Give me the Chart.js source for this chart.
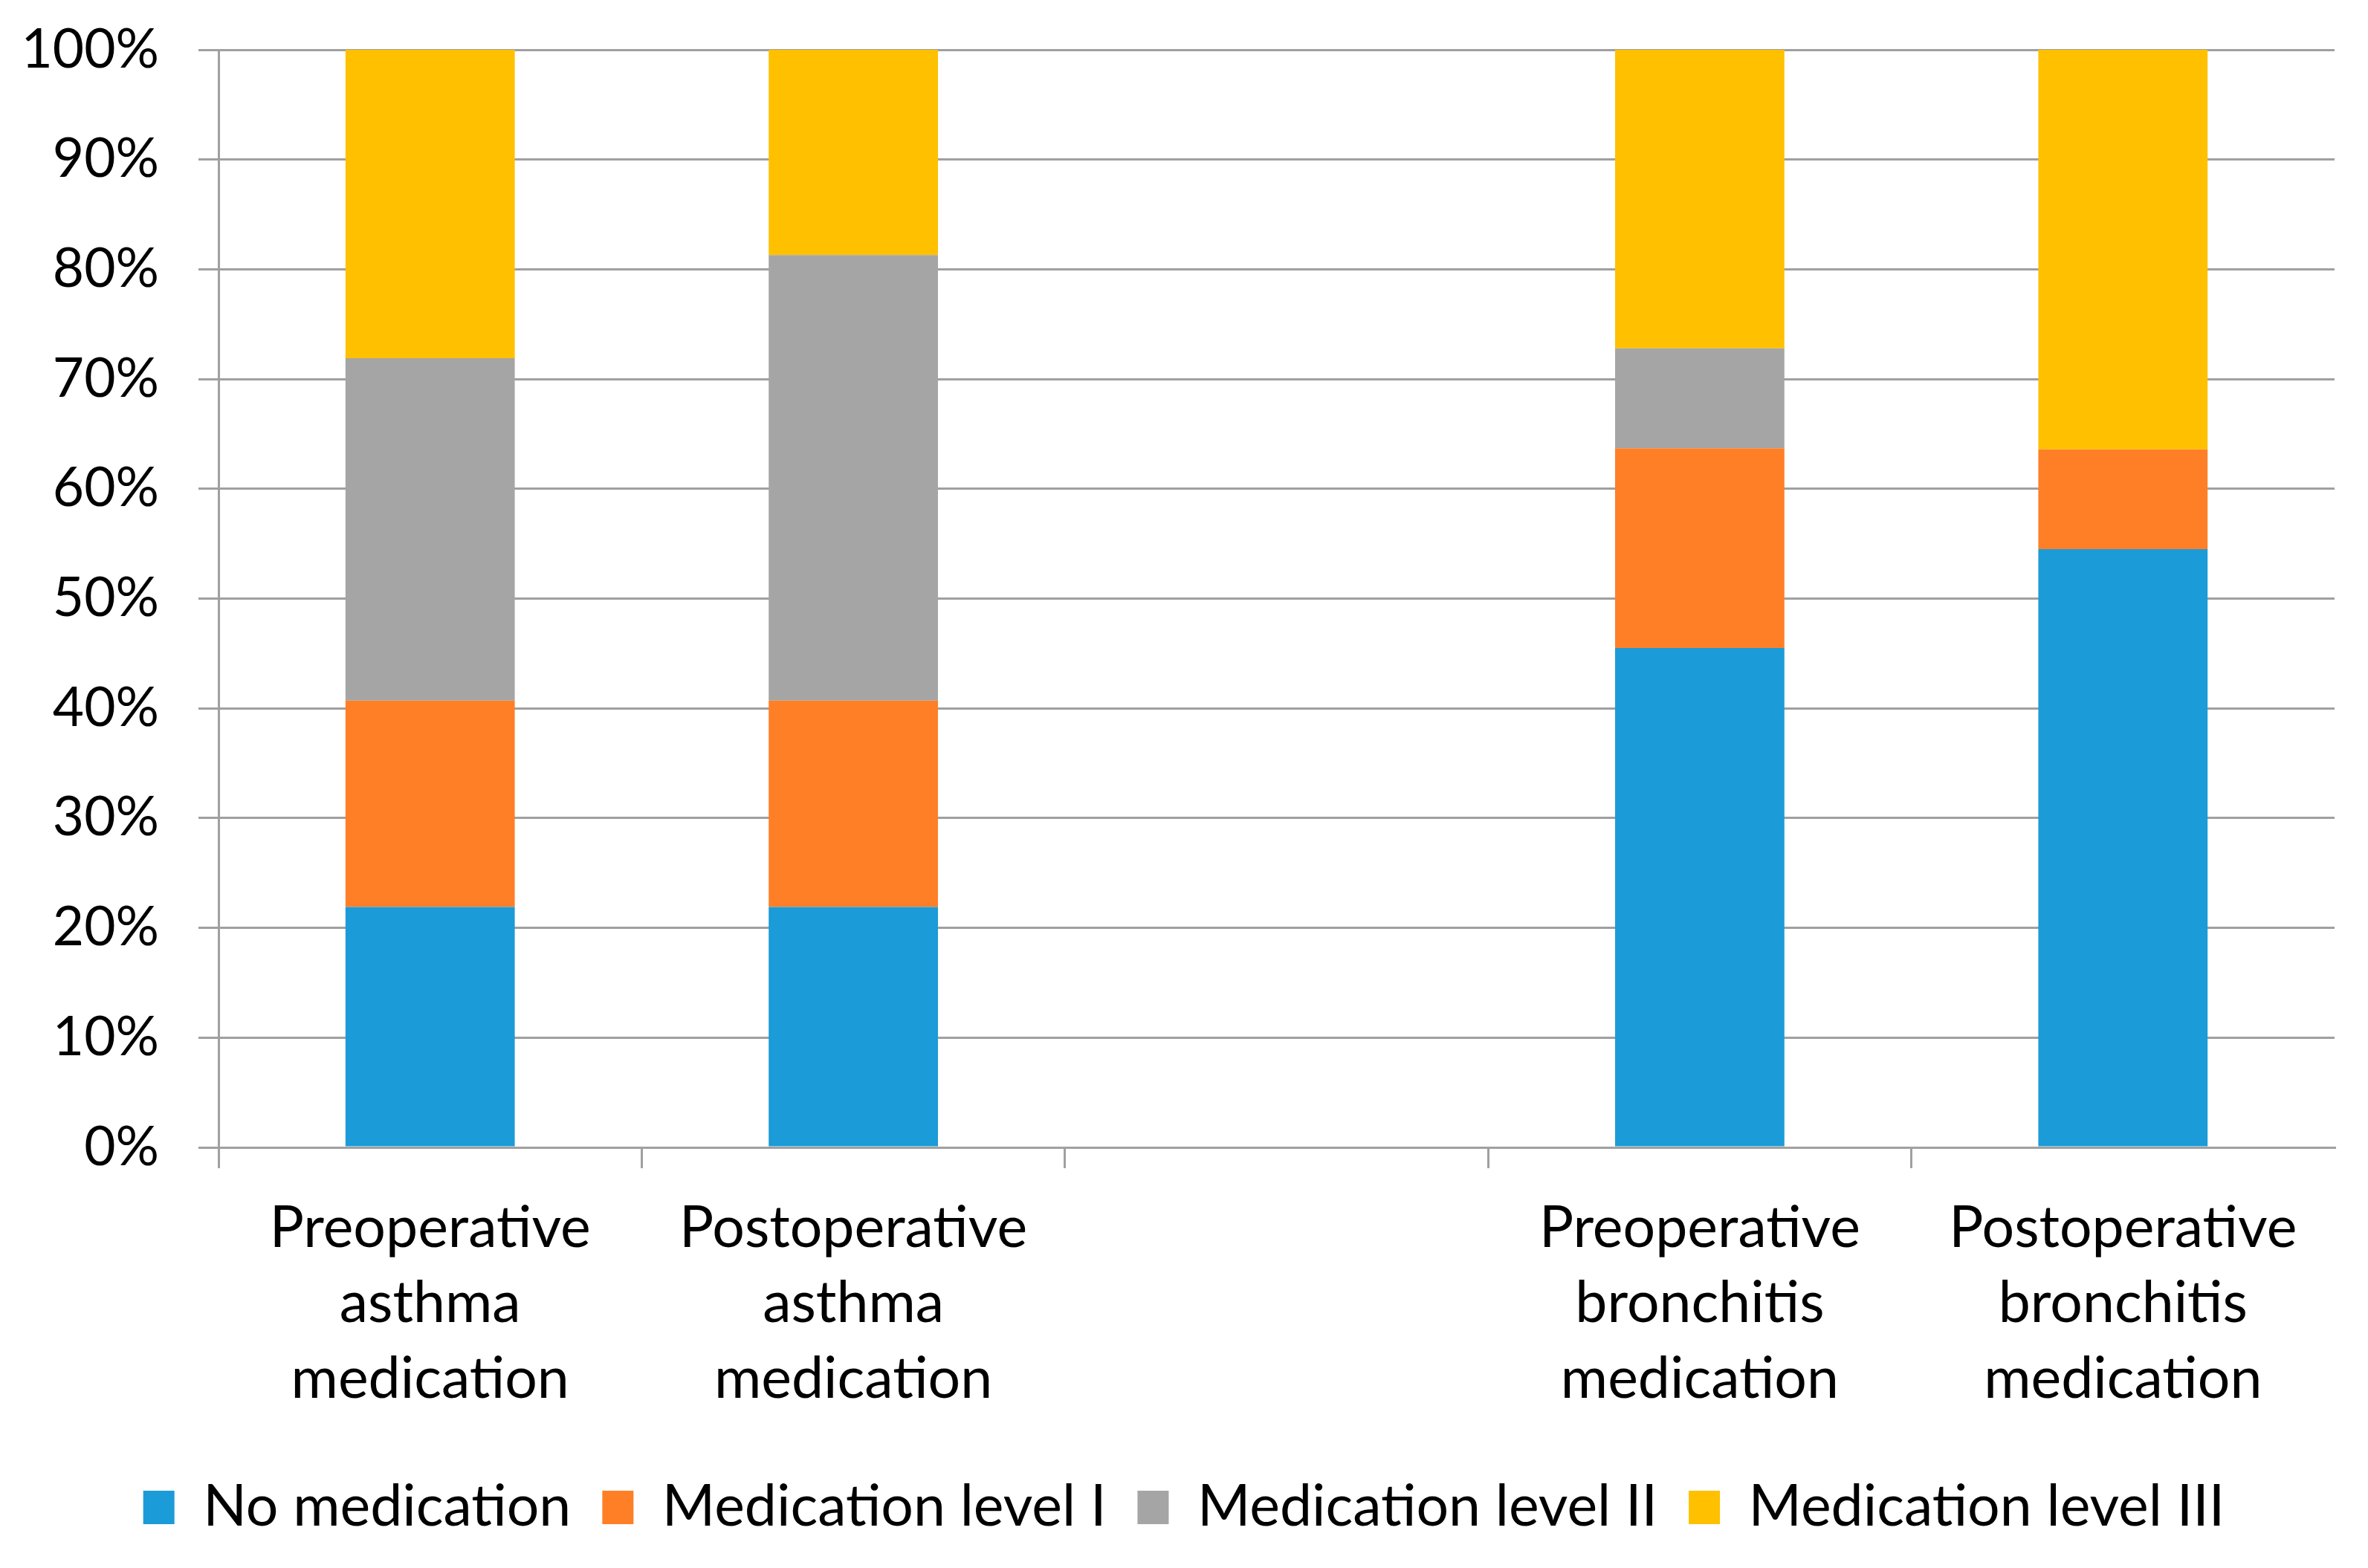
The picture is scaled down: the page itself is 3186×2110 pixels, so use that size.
<!DOCTYPE html>
<html>
<head>
<meta charset="utf-8">
<script src="https://cdn.jsdelivr.net/npm/chart.js@4/dist/chart.umd.min.js"></script>
<style>
html,body{margin:0;padding:0;background:#fff;}
#wrap{width:3186px;height:2110px;}
canvas{display:block;}
</style>
</head>
<body>
<div id="wrap"><canvas id="c" width="3186" height="2110" style="width:3186px;height:2110px"></canvas></div>
<script>
const categories = [
  ["Preoperative","asthma","medication"],
  ["Postoperative","asthma","medication"],
  "",
  ["Preoperative","bronchitis","medication"],
  ["Postoperative","bronchitis","medication"]
];
const seriesNames = ["No medication","Medication level I","Medication level II","Medication level III"];
const noMedication   = [21.9, 21.9, null, 45.5, 54.5];
const levelI         = [18.8, 18.8, null, 18.2,  9.1];
const levelII        = [31.2, 40.6, null,  9.1,  0.0];
const levelIII       = [28.1, 18.7, null, 27.2, 36.4];
const yTicks = [0,10,20,30,40,50,60,70,80,90,100];
const colors = ["#1B9BD7","#FF7F27","#A5A5A5","#FFC000"];

const FONT = "Lato";
const gridColor = "#A0A0A0";
const seriesValues = [noMedication, levelI, levelII, levelIII];

new Chart(document.getElementById('c'), {
  type: 'bar',
  data: {
    labels: categories,
    datasets: seriesValues.map((v,i)=>({
      label: seriesNames[i],
      data: v,
      backgroundColor: colors[i],
      borderWidth: 0,
      categoryPercentage: 1.0,
      barPercentage: 0.40
    }))
  },
  options: {
    responsive: false,
    devicePixelRatio: 1,
    animation: false,
    layout: { padding: { top: 67, right: 0, bottom: 33, left: 0 } },
    plugins: {
      tooltip: { enabled: false },
      legend: {
        position: 'bottom',
        labels: {
          font: { family: FONT, size: 77 },
          color: '#000',
          boxWidth: 42,
          boxHeight: 45,
          padding: 42
        }
      }
    },
    scales: {
      x: {
        stacked: true,
        grid: {
          offset: true,
          drawOnChartArea: false,
          drawTicks: true,
          tickLength: 28,
          lineWidth: 3,
          color: (ctx) => ctx.type === 'tick' ? gridColor : 'rgba(0,0,0,0)'
        },
        border: { display: true, color: gridColor, width: 3 },
        ticks: {
          font: { family: FONT, size: 77, lineHeight: 1.32 },
          color: '#000',
          padding: 30,
          maxRotation: 0,
          autoSkip: false
        },
        afterFit: (s) => { s.height = 404; s.paddingLeft = 0; s.paddingRight = 0; }
      },
      y: {
        stacked: true,
        min: 0,
        max: 100,
        afterBuildTicks: (s) => { s.ticks = yTicks.map(v => ({ value: v })); },
        grid: {
          color: gridColor,
          lineWidth: 3,
          drawTicks: true,
          tickLength: 27
        },
        border: { display: true, color: gridColor, width: 3 },
        ticks: {
          font: { family: FONT, size: 73 },
          color: '#000',
          padding: 53,
          callback: (v) => v + '%'
        },
        afterFit: (s) => { s.width = 294; s.paddingTop = 0; s.paddingBottom = 0; }
      },
      spacer: {
        type: 'linear',
        position: 'right',
        display: true,
        grid: { display: false },
        ticks: { display: false },
        border: { display: false },
        afterFit: (s) => { s.width = 45; s.paddingTop = 0; s.paddingBottom = 0; }
      }
    }
  }
});
</script>
</body>
</html>
